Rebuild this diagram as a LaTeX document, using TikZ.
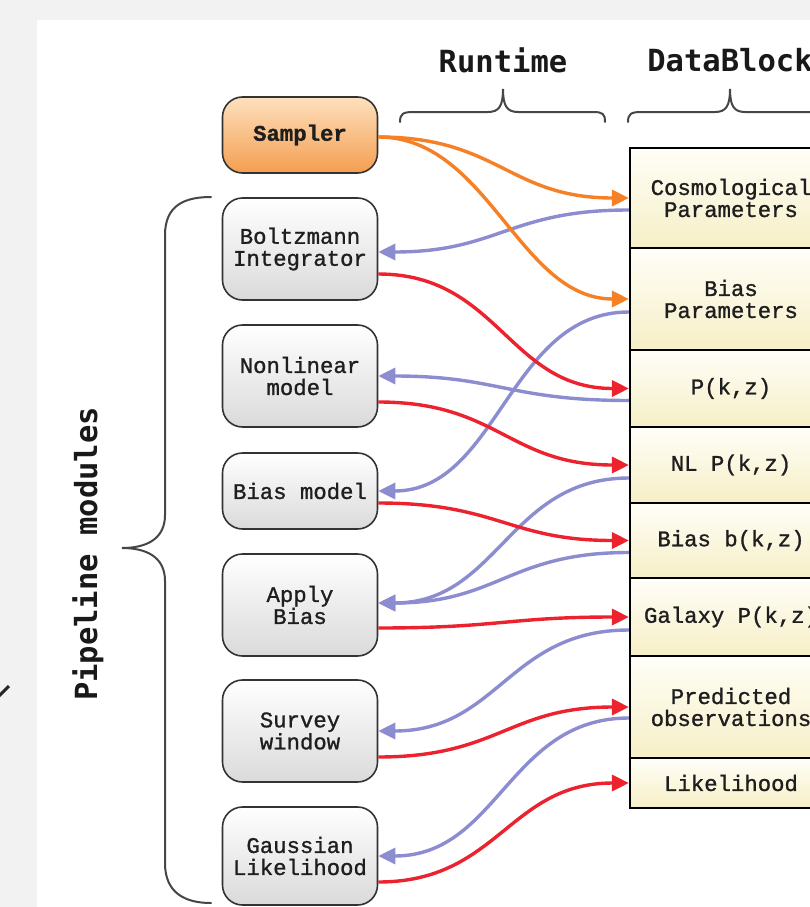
\documentclass[tikz,border=0pt]{standalone}
\usepackage{fontspec}
\usetikzlibrary{arrows.meta}
\newfontfamily\nodefont{Liberation Mono}[FakeBold=1.1]
\newfontfamily\headfont{DejaVu Sans Mono}
\definecolor{orangec}{RGB}{245,128,37}
\definecolor{redc}{RGB}{236,34,46}
\definecolor{bluec}{RGB}{140,140,208}
\definecolor{bggray}{RGB}{242,242,242}
\definecolor{samptop}{RGB}{253,224,190}
\definecolor{sampbot}{RGB}{244,158,80}
\definecolor{celltop}{RGB}{255,254,248}
\definecolor{cellbot}{RGB}{246,239,198}
\definecolor{modbot}{RGB}{218,218,218}
\definecolor{txt}{RGB}{30,30,30}
\definecolor{bracec}{RGB}{70,70,70}
\tikzset{
  mod/.style={draw=black!80, line width=1.6pt, rounded corners=20pt, minimum width=155pt,
    inner sep=0pt, align=center, top color=white, bottom color=modbot, text=txt,
    font=\nodefont\fontsize{22.3}{22}\selectfont},
  cell/.style={draw=black, line width=2.2pt, minimum width=202pt, inner sep=0pt,
    align=center, top color=celltop, bottom color=cellbot, text=txt,
    font=\nodefont\fontsize{22.3}{22}\selectfont},
  head/.style={font=\headfont\bfseries\fontsize{30.5}{31}\selectfont, text=black!90, inner sep=0pt},
  conn/.style={line width=3.4pt},
  tip/.style={-{Triangle[length=17pt,width=16pt]}},
  ora/.style={conn, draw=orangec, tip},
  redl/.style={conn, draw=redc, tip},
  bluel/.style={conn, draw=bluec, tip},
  brace/.style={draw=bracec, line width=2pt, line cap=round}
}
\begin{document}
\begin{tikzpicture}[x=1pt,y=-1pt]
\useasboundingbox (0,0) rectangle (810,907);
\clip (0,0) rectangle (810,907);
\fill[bggray] (0,0) rectangle (810,907);
\fill[white] (37,20) rectangle (810,907);
\draw[line width=3pt, black!85] (-2,697) -- (9,686);

% headers
\node[head] (hrun) at (503,60) {Runtime};
\node[head] (hdata) at (730,60) {DataBlock};
\node[head, rotate=90] (hpipe) at (88,554) {Pipeline modules};

% braces
\draw[brace] (400,122) .. controls (400,114) and (403,112) .. (413,112) -- (488,112)
  .. controls (499,112) and (503,106) .. (503,89)
  .. controls (503,106) and (507,112) .. (518,112) -- (593,112)
  .. controls (603,112) and (605,114) .. (605,122);
\draw[brace] (628,122) .. controls (628,114) and (631,112) .. (641,112) -- (715,112)
  .. controls (726,112) and (730,106) .. (730,89)
  .. controls (730,106) and (734,112) .. (745,112) -- (820,112)
  .. controls (830,112) and (832,114) .. (832,122);
\draw[brace] (211,197) .. controls (185,197) and (165,205) .. (165,235) -- (165,515)
  .. controls (165,540) and (145,548) .. (122,548)
  .. controls (145,548) and (165,556) .. (165,581) -- (165,863)
  .. controls (165,893) and (185,903) .. (211,903);

% modules
\node[mod, minimum height=76pt, top color=samptop, bottom color=sampbot,
  font=\nodefont\bfseries\fontsize{22.3}{22}\selectfont] (samp) at (300,135) {Sampler};
\node[mod, minimum height=102pt] (boltz) at (300,249) {Boltzmann\\Integrator};
\node[mod, minimum height=102pt] (nonlin) at (300,376) {Nonlinear\\model};
\node[mod, minimum height=76pt] (biasm) at (300,491) {Bias model};
\node[mod, minimum height=102pt] (apply) at (300,605) {Apply\\Bias};
\node[mod, minimum height=102pt] (survey) at (300,731) {Survey\\window};
\node[mod, minimum height=98pt] (gauss) at (300,856) {Gaussian\\Likelihood};

% datablock cells
\node[cell, minimum height=100pt] (cp) at (731,198) {Cosmological\\Parameters};
\node[cell, minimum height=102pt] (bp) at (731,299) {Bias\\Parameters};
\node[cell, minimum height=77pt] (pk) at (731,388.5) {P(k,z)};
\node[cell, minimum height=76pt] (nl) at (731,465) {NL P(k,z)};
\node[cell, minimum height=75pt] (bb) at (731,540.5) {Bias b(k,z)};
\node[cell, minimum height=78pt] (gal) at (731,617) {Galaxy P(k,z)};
\node[cell, minimum height=102pt] (pred) at (731,707) {Predicted\\observations};
\node[cell, minimum height=50pt] (like) at (731,783) {Likelihood};

% blue: datablock -> modules
\draw[bluel] ([yshift=-12pt]cp.west) .. controls +(-120,0) and +(120,0) .. ([yshift=-3pt]boltz.east);
\draw[bluel] ([yshift=-13pt]bp.west) .. controls +(-120,0) and +(120,0) .. (biasm.east);
\draw[bluel] ([yshift=-12pt]pk.west) .. controls +(-120,0) and +(120,0) .. (nonlin.east);
\draw[bluel] ([yshift=-13pt]nl.west) .. controls +(-120,0) and +(120,0) .. ([yshift=2pt]apply.east);
\draw[bluel] ([yshift=-12pt]bb.west) .. controls +(-120,0) and +(120,0) .. ([yshift=2pt]apply.east);
\draw[bluel] ([yshift=-13pt]gal.west) .. controls +(-120,0) and +(120,0) .. (survey.east);
\draw[bluel] ([yshift=-11pt]pred.west) .. controls +(-120,0) and +(120,0) .. (gauss.east);

% orange: sampler -> parameters
\draw[ora] ([yshift=-2pt]samp.east) .. controls +(120,0) and +(-120,0) .. (cp.west);
\draw[ora] ([yshift=-2pt]samp.east) .. controls +(110,0) and +(-110,0) .. (bp.west);

% red: modules -> datablock
\draw[redl] ([yshift=-25pt]boltz.east) .. controls +(120,0) and +(-120,0) .. (pk.west);
\draw[redl] ([yshift=-26pt]nonlin.east) .. controls +(120,0) and +(-120,0) .. (nl.west);
\draw[redl] ([yshift=-12pt]biasm.east) .. controls +(120,0) and +(-120,0) .. (bb.west);
\draw[redl] ([yshift=-23pt]apply.east) .. controls +(120,0) and +(-120,0) .. (gal.west);
\draw[redl] ([yshift=-26pt]survey.east) .. controls +(120,0) and +(-120,0) .. (pred.west);
\draw[redl] ([yshift=-26pt]gauss.east) .. controls +(120,0) and +(-120,0) .. (like.west);
\end{tikzpicture}
\end{document}
